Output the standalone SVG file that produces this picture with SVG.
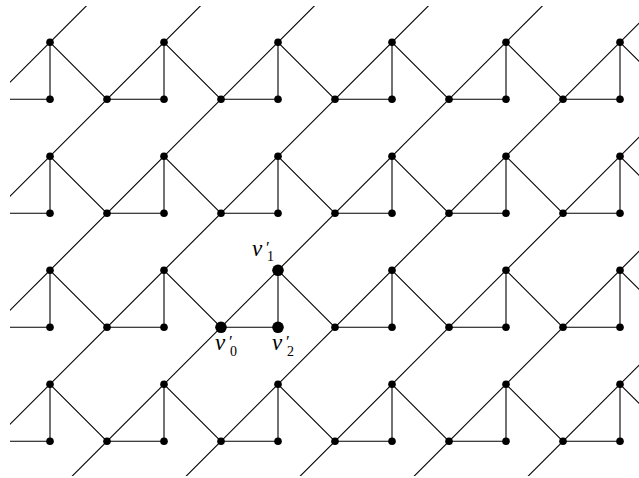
<svg xmlns="http://www.w3.org/2000/svg" width="639" height="478" viewBox="0 0 639 478">
<style>
.e{stroke:#000;stroke-width:1.1;fill:none}
.n{fill:#000}
.v{font-family:"Liberation Serif",serif;font-style:italic;font-size:23px;fill:#000}
.p{font-family:"Liberation Serif","DejaVu Serif",serif;font-style:normal;font-size:17px}
.s{font-family:"Liberation Serif",serif;font-style:normal;font-size:14px}
</style>
<defs>
<clipPath id="clip"><rect x="10" y="6" width="640" height="470"/></clipPath>
</defs>
<rect width="639" height="478" fill="#fff"/>
<g id="connectors" class="e" clip-path="url(#clip)">
<line x1="-20" y1="112.3" x2="112.3" y2="-20"/>
<line x1="-20" y1="226.3" x2="226.3" y2="-20"/>
<line x1="-20" y1="340.3" x2="340.3" y2="-20"/>
<line x1="-20" y1="454.3" x2="454.3" y2="-20"/>
<line x1="-20" y1="568.3" x2="568.3" y2="-20"/>
<line x1="0" y1="662.3" x2="682.3" y2="-20"/>
<line x1="100" y1="676.3" x2="700" y2="76.3"/>
<line x1="200" y1="690.3" x2="700" y2="190.3"/>
<line x1="300" y1="704.3" x2="700" y2="304.3"/>
<path d="
M50,42.3V99.3H-7 M50,42.3L107,99.3
M164,42.3V99.3H107 M164,42.3L221,99.3
M278,42.3V99.3H221 M278,42.3L335,99.3
M392,42.3V99.3H335 M392,42.3L449,99.3
M506,42.3V99.3H449 M506,42.3L563,99.3
M620,42.3V99.3H563 M620,42.3L677,99.3
M50,156.3V213.3H-7 M50,156.3L107,213.3
M164,156.3V213.3H107 M164,156.3L221,213.3
M278,156.3V213.3H221 M278,156.3L335,213.3
M392,156.3V213.3H335 M392,156.3L449,213.3
M506,156.3V213.3H449 M506,156.3L563,213.3
M620,156.3V213.3H563 M620,156.3L677,213.3
M50,270.3V327.3H-7 M50,270.3L107,327.3
M164,270.3V327.3H107 M164,270.3L221,327.3
M278,270.3V327.3H221 M278,270.3L335,327.3
M392,270.3V327.3H335 M392,270.3L449,327.3
M506,270.3V327.3H449 M506,270.3L563,327.3
M620,270.3V327.3H563 M620,270.3L677,327.3
M50,384.3V441.3H-7 M50,384.3L107,441.3
M164,384.3V441.3H107 M164,384.3L221,441.3
M278,384.3V441.3H221 M278,384.3L335,441.3
M392,384.3V441.3H335 M392,384.3L449,441.3
M506,384.3V441.3H449 M506,384.3L563,441.3
M620,384.3V441.3H563 M620,384.3L677,441.3"/>
</g>
<g id="nodes" class="n">
<g id="r0"><circle id="a0_0" cx="50" cy="42.3" r="3.8"/><circle id="a0_1" cx="164" cy="42.3" r="3.8"/><circle id="a0_2" cx="278" cy="42.3" r="3.8"/><circle id="a0_3" cx="392" cy="42.3" r="3.8"/><circle id="a0_4" cx="506" cy="42.3" r="3.8"/><circle id="a0_5" cx="620" cy="42.3" r="3.8"/></g>
<g id="r1"><circle id="b0_0" cx="50" cy="99.3" r="3.8"/><circle id="b0_1" cx="107" cy="99.3" r="3.8"/><circle id="b0_2" cx="164" cy="99.3" r="3.8"/><circle id="b0_3" cx="221" cy="99.3" r="3.8"/><circle id="b0_4" cx="278" cy="99.3" r="3.8"/><circle id="b0_5" cx="335" cy="99.3" r="3.8"/><circle id="b0_6" cx="392" cy="99.3" r="3.8"/><circle id="b0_7" cx="449" cy="99.3" r="3.8"/><circle id="b0_8" cx="506" cy="99.3" r="3.8"/><circle id="b0_9" cx="563" cy="99.3" r="3.8"/><circle id="b0_10" cx="620" cy="99.3" r="3.8"/></g>
<g id="r2"><circle id="a1_0" cx="50" cy="156.3" r="3.8"/><circle id="a1_1" cx="164" cy="156.3" r="3.8"/><circle id="a1_2" cx="278" cy="156.3" r="3.8"/><circle id="a1_3" cx="392" cy="156.3" r="3.8"/><circle id="a1_4" cx="506" cy="156.3" r="3.8"/><circle id="a1_5" cx="620" cy="156.3" r="3.8"/></g>
<g id="r3"><circle id="b1_0" cx="50" cy="213.3" r="3.8"/><circle id="b1_1" cx="107" cy="213.3" r="3.8"/><circle id="b1_2" cx="164" cy="213.3" r="3.8"/><circle id="b1_3" cx="221" cy="213.3" r="3.8"/><circle id="b1_4" cx="278" cy="213.3" r="3.8"/><circle id="b1_5" cx="335" cy="213.3" r="3.8"/><circle id="b1_6" cx="392" cy="213.3" r="3.8"/><circle id="b1_7" cx="449" cy="213.3" r="3.8"/><circle id="b1_8" cx="506" cy="213.3" r="3.8"/><circle id="b1_9" cx="563" cy="213.3" r="3.8"/><circle id="b1_10" cx="620" cy="213.3" r="3.8"/></g>
<g id="r4"><circle id="a2_0" cx="50" cy="270.3" r="3.8"/><circle id="a2_1" cx="164" cy="270.3" r="3.8"/><circle id="v1p" cx="278" cy="270.3" r="5.8"/><circle id="a2_3" cx="392" cy="270.3" r="3.8"/><circle id="a2_4" cx="506" cy="270.3" r="3.8"/><circle id="a2_5" cx="620" cy="270.3" r="3.8"/></g>
<g id="r5"><circle id="b2_0" cx="50" cy="327.3" r="3.8"/><circle id="b2_1" cx="107" cy="327.3" r="3.8"/><circle id="b2_2" cx="164" cy="327.3" r="3.8"/><circle id="v0p" cx="221" cy="327.3" r="5.8"/><circle id="v2p" cx="278" cy="327.3" r="5.8"/><circle id="b2_5" cx="335" cy="327.3" r="3.8"/><circle id="b2_6" cx="392" cy="327.3" r="3.8"/><circle id="b2_7" cx="449" cy="327.3" r="3.8"/><circle id="b2_8" cx="506" cy="327.3" r="3.8"/><circle id="b2_9" cx="563" cy="327.3" r="3.8"/><circle id="b2_10" cx="620" cy="327.3" r="3.8"/></g>
<g id="r6"><circle id="a3_0" cx="50" cy="384.3" r="3.8"/><circle id="a3_1" cx="164" cy="384.3" r="3.8"/><circle id="a3_2" cx="278" cy="384.3" r="3.8"/><circle id="a3_3" cx="392" cy="384.3" r="3.8"/><circle id="a3_4" cx="506" cy="384.3" r="3.8"/><circle id="a3_5" cx="620" cy="384.3" r="3.8"/></g>
<g id="r7"><circle id="b3_0" cx="50" cy="441.3" r="3.8"/><circle id="b3_1" cx="107" cy="441.3" r="3.8"/><circle id="b3_2" cx="164" cy="441.3" r="3.8"/><circle id="b3_3" cx="221" cy="441.3" r="3.8"/><circle id="b3_4" cx="278" cy="441.3" r="3.8"/><circle id="b3_5" cx="335" cy="441.3" r="3.8"/><circle id="b3_6" cx="392" cy="441.3" r="3.8"/><circle id="b3_7" cx="449" cy="441.3" r="3.8"/><circle id="b3_8" cx="506" cy="441.3" r="3.8"/><circle id="b3_9" cx="563" cy="441.3" r="3.8"/><circle id="b3_10" cx="620" cy="441.3" r="3.8"/></g>
</g>
<g id="labels">
<text id="lbl-v1" class="v" x="252" y="256">v<tspan class="p" x="266" y="253">′</tspan><tspan class="s" x="267" y="261">1</tspan></text>
<text id="lbl-v0" class="v" x="215" y="350">v<tspan class="p" x="229" y="347">′</tspan><tspan class="s" x="230" y="356">0</tspan></text>
<text id="lbl-v2" class="v" x="272" y="350">v<tspan class="p" x="286" y="347">′</tspan><tspan class="s" x="287" y="356">2</tspan></text>
</g>
</svg>
